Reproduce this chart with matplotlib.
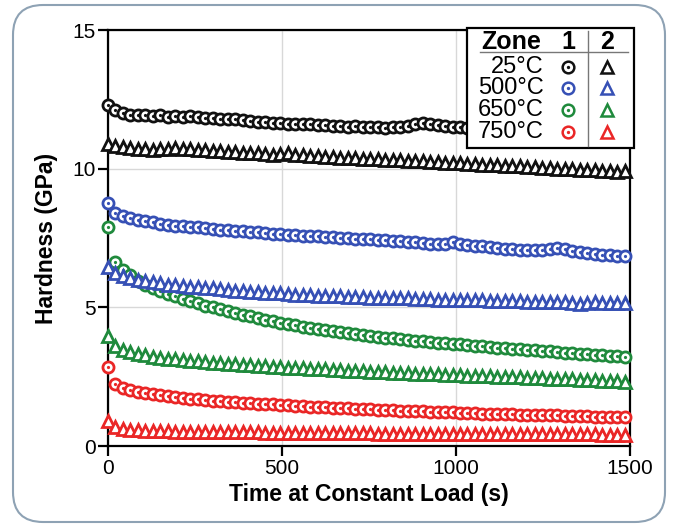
import numpy as np
import matplotlib
matplotlib.use("Agg")
import matplotlib.pyplot as plt
from matplotlib.lines import Line2D
from matplotlib.patches import Rectangle, FancyBboxPatch

plt.rcParams['font.family'] = ['Liberation Sans', 'DejaVu Sans']

W, H = 676, 525

# time at constant load (s), 70 readings per run
time_s = np.linspace(0, 1485, 70)

temps = ["25°C", "500°C", "650°C", "750°C"]
colors = ["#111111", "#3650b5", "#1f8a3c", "#ea2626"]

# zone 1 (circles)
z1_25 = [12.3, 12.1, 12.0, 11.95, 11.95, 11.92, 11.9, 11.92, 11.88, 11.9,
         11.85, 11.9, 11.85, 11.82, 11.82, 11.8, 11.78, 11.8, 11.75, 11.72,
         11.7, 11.68, 11.65, 11.65, 11.62, 11.6, 11.6, 11.6, 11.58, 11.58,
         11.55, 11.55, 11.52, 11.55, 11.52, 11.5, 11.5, 11.48, 11.5, 11.52,
         11.55, 11.6, 11.65, 11.62, 11.58, 11.55, 11.52, 11.5, 11.48, 11.47,
         11.46, 11.45, 11.44, 11.43, 11.42, 11.41, 11.4, 11.39, 11.38, 11.37,
         11.36, 11.35, 11.34, 11.33, 11.32, 11.31, 11.3, 11.3, 11.29, 11.28]
z1_500 = [8.75, 8.4, 8.3, 8.22, 8.15, 8.1, 8.06, 8.02, 7.98, 7.95,
          7.92, 7.9, 7.88, 7.85, 7.82, 7.8, 7.78, 7.76, 7.74, 7.72,
          7.7, 7.68, 7.66, 7.64, 7.62, 7.6, 7.58, 7.58, 7.56, 7.55,
          7.52, 7.5, 7.5, 7.48, 7.46, 7.45, 7.44, 7.42, 7.4, 7.38,
          7.36, 7.34, 7.32, 7.3, 7.28, 7.3, 7.36, 7.3, 7.25, 7.22,
          7.2, 7.18, 7.15, 7.12, 7.1, 7.08, 7.06, 7.05, 7.08, 7.12,
          7.14, 7.1, 7.04, 7.0, 6.96, 6.92, 6.9, 6.88, 6.86, 6.84]
z1_650 = [7.9, 6.65, 6.35, 6.15, 5.95, 5.8, 5.68, 5.58, 5.48, 5.4,
          5.3, 5.22, 5.14, 5.06, 5.0, 4.93, 4.86, 4.8, 4.74, 4.68,
          4.62, 4.56, 4.5, 4.45, 4.4, 4.35, 4.3, 4.26, 4.22, 4.18,
          4.14, 4.1, 4.06, 4.03, 4.0, 3.97, 3.94, 3.91, 3.88, 3.85,
          3.82, 3.8, 3.77, 3.75, 3.72, 3.7, 3.68, 3.66, 3.63, 3.61,
          3.59, 3.57, 3.55, 3.53, 3.51, 3.49, 3.47, 3.45, 3.43, 3.41,
          3.39, 3.37, 3.35, 3.33, 3.31, 3.29, 3.27, 3.25, 3.23, 3.2]
z1_750 = [2.85, 2.22, 2.1, 2.02, 1.96, 1.91, 1.87, 1.83, 1.8, 1.77,
          1.74, 1.71, 1.69, 1.66, 1.64, 1.62, 1.6, 1.58, 1.56, 1.54,
          1.53, 1.51, 1.5, 1.48, 1.47, 1.45, 1.44, 1.42, 1.41, 1.4,
          1.38, 1.37, 1.36, 1.35, 1.33, 1.32, 1.31, 1.3, 1.29, 1.28,
          1.27, 1.26, 1.25, 1.24, 1.23, 1.22, 1.21, 1.2, 1.19, 1.18,
          1.17, 1.16, 1.16, 1.15, 1.14, 1.13, 1.13, 1.12, 1.11, 1.1,
          1.1, 1.09, 1.08, 1.08, 1.07, 1.06, 1.06, 1.05, 1.05, 1.04]

# zone 2 (triangles)
z2_25 = [10.9, 10.82, 10.78, 10.75, 10.72, 10.7, 10.68, 10.7, 10.72, 10.74,
         10.72, 10.7, 10.68, 10.66, 10.65, 10.62, 10.6, 10.6, 10.58, 10.56,
         10.55, 10.52, 10.5, 10.52, 10.55, 10.5, 10.48, 10.45, 10.44, 10.42,
         10.42, 10.4, 10.4, 10.38, 10.36, 10.35, 10.34, 10.32, 10.3, 10.3,
         10.28, 10.28, 10.26, 10.25, 10.24, 10.22, 10.2, 10.2, 10.18, 10.16,
         10.15, 10.14, 10.12, 10.1, 10.1, 10.08, 10.06, 10.05, 10.04, 10.02,
         10.0, 10.0, 9.98, 9.96, 9.95, 9.94, 9.92, 9.9, 9.88, 9.9]
z2_500 = [6.45, 6.25, 6.12, 6.05, 6.0, 5.95, 5.9, 5.86, 5.82, 5.8,
          5.76, 5.74, 5.72, 5.7, 5.68, 5.66, 5.62, 5.6, 5.58, 5.56,
          5.55, 5.52, 5.5, 5.5, 5.48, 5.46, 5.45, 5.44, 5.42, 5.42,
          5.4, 5.4, 5.38, 5.38, 5.36, 5.35, 5.35, 5.34, 5.33, 5.32,
          5.32, 5.3, 5.3, 5.3, 5.28, 5.28, 5.27, 5.26, 5.26, 5.25,
          5.25, 5.24, 5.24, 5.23, 5.22, 5.22, 5.21, 5.2, 5.2, 5.19,
          5.18, 5.18, 5.15, 5.12, 5.16, 5.18, 5.17, 5.16, 5.16, 5.15]
z2_650 = [3.95, 3.6, 3.45, 3.38, 3.32, 3.27, 3.22, 3.18, 3.15, 3.12,
          3.1, 3.07, 3.05, 3.03, 3.01, 2.99, 2.97, 2.95, 2.93, 2.91,
          2.9, 2.88, 2.86, 2.85, 2.83, 2.82, 2.8, 2.79, 2.77, 2.76,
          2.75, 2.73, 2.72, 2.71, 2.7, 2.68, 2.67, 2.66, 2.65, 2.63,
          2.62, 2.61, 2.6, 2.59, 2.58, 2.57, 2.56, 2.55, 2.54, 2.53,
          2.52, 2.51, 2.5, 2.49, 2.48, 2.47, 2.46, 2.45, 2.44, 2.43,
          2.42, 2.41, 2.4, 2.39, 2.38, 2.37, 2.36, 2.35, 2.34, 2.32]
z2_750 = [0.9, 0.67, 0.61, 0.58, 0.56, 0.55, 0.54, 0.53, 0.53, 0.52,
          0.52, 0.51, 0.51, 0.51, 0.5, 0.5, 0.5, 0.49, 0.49, 0.49,
          0.49, 0.48, 0.48, 0.48, 0.48, 0.47, 0.47, 0.47, 0.47, 0.47,
          0.46, 0.46, 0.46, 0.46, 0.46, 0.46, 0.45, 0.45, 0.45, 0.45,
          0.45, 0.45, 0.45, 0.44, 0.44, 0.44, 0.44, 0.44, 0.44, 0.44,
          0.44, 0.43, 0.43, 0.43, 0.43, 0.43, 0.43, 0.43, 0.43, 0.42,
          0.42, 0.42, 0.42, 0.42, 0.42, 0.42, 0.41, 0.41, 0.41, 0.41]

zone1 = [z1_25, z1_500, z1_650, z1_750]
zone2 = [z2_25, z2_500, z2_650, z2_750]

MS_C, MS_T, MEW = 8.0, 9.0, 2.0


def fx(x, y):
    # pixel position -> figure fraction
    return x / W, 1 - y / H


fig = plt.figure(figsize=(W / 100, H / 100), dpi=100)
ax = fig.add_axes([108 / W, (H - 446) / H, 522 / W, 416 / H])

for vals, c in zip(zone1, colors):
    # point by point so each white-filled circle covers the previous one
    for t, h in zip(time_s, vals):
        ax.plot([t], [h], 'o', ms=MS_C, mfc='white', mec=c, mew=MEW, clip_on=False, zorder=3)
        ax.plot([t], [h], 'o', ms=2.3, mfc=c, mec=c, mew=0, clip_on=False, zorder=3)
for vals, c in zip(zone2, colors):
    ax.plot(time_s, vals, '^', ms=MS_T, mfc='white', mec=c, mew=MEW, ls='none', clip_on=False, zorder=3)

ax.set_xlim(0, 1500)
ax.set_ylim(0, 15)
ax.set_xticks([0, 500, 1000, 1500])
ax.set_yticks([0, 5, 10, 15])
ax.grid(True, color='#d8d8d8', lw=1.0)
ax.set_axisbelow(True)
for s in ax.spines.values():
    s.set_linewidth(1.6)
    s.set_color('black')
ax.tick_params(direction='out', length=7, width=1.6, labelsize=15, pad=2)

ax.set_xlabel("Time at Constant Load (s)", fontsize=16.5, fontweight='bold', labelpad=4)
ax.set_ylabel("Hardness (GPa)", fontsize=16.5, fontweight='bold', labelpad=10)

# table-style legend drawn in figure pixels
tf = fig.transFigure
x0, y0 = fx(467, 148)
x1, y1 = fx(634, 28)
fig.add_artist(Rectangle((x0, y0), x1 - x0, y1 - y0, transform=tf,
                         facecolor='white', edgecolor='black', lw=1.6, zorder=10))
fig.add_artist(Line2D([480 / W, 628 / W], [1 - 52 / H] * 2, transform=tf,
                      color='#777777', lw=1.0, zorder=11))
fig.add_artist(Line2D([588 / W] * 2, [1 - 31 / H, 1 - 146 / H], transform=tf,
                      color='#777777', lw=1.0, zorder=11))
fig.text(*fx(481, 42), "Zone", fontsize=18, fontweight='bold', ha='left', va='center', zorder=12)
fig.text(*fx(568, 42), "1", fontsize=18, fontweight='bold', ha='center', va='center', zorder=12)
fig.text(*fx(607, 42), "2", fontsize=18, fontweight='bold', ha='center', va='center', zorder=12)
row_y = [67, 88, 110, 132]
for lab, c, ry in zip(temps, colors, row_y):
    fig.text(*fx(544, ry), lab, fontsize=17, ha='right', va='center', zorder=12)
    mx, my = fx(568, ry)
    fig.add_artist(Line2D([mx], [my], marker='o', ms=8.4, mfc='white', mec=c, mew=1.8, transform=tf, zorder=12))
    fig.add_artist(Line2D([mx], [my], marker='o', ms=2.4, mfc=c, mec=c, mew=0, transform=tf, zorder=13))
    tx, ty = fx(607, ry)
    fig.add_artist(Line2D([tx], [ty], marker='^', ms=9, mfc='white', mec=c, mew=1.8, transform=tf, zorder=12))

# rounded outer frame
fig.add_artist(FancyBboxPatch((0.13, 0.03), 6.52, 5.17, boxstyle="round,pad=0,rounding_size=0.3",
                              transform=fig.dpi_scale_trans, facecolor='none',
                              edgecolor='#8ea2b4', lw=1.5, zorder=0))

fig.savefig("out.png", dpi=100)
